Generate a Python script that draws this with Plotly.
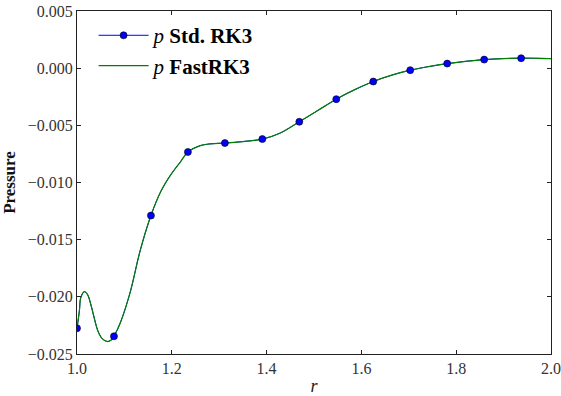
import plotly.graph_objects as go

# Sampled markers (Std. RK3)
r_markers = [1.000, 1.078, 1.156, 1.234, 1.312, 1.391, 1.469, 1.547, 1.625, 1.703, 1.781, 1.859, 1.937]
p_markers = [-0.02275, -0.02345, -0.01289, -0.00733, -0.00655, -0.00620, -0.00469,
             -0.00271, -0.00117, -0.000175, 0.000401, 0.000750, 0.000873]

# Continuous curve
r_curve = [1.000, 1.005, 1.008, 1.0155, 1.022, 1.030, 1.037, 1.044, 1.053, 1.065, 1.074, 1.078,
           1.091, 1.112, 1.133, 1.156, 1.177, 1.198, 1.219, 1.234, 1.260, 1.281, 1.312, 1.350,
           1.391, 1.429, 1.469, 1.508, 1.547, 1.586, 1.625, 1.664, 1.703, 1.742, 1.781, 1.820,
           1.859, 1.898, 1.937, 1.970, 2.000]
p_std_curve = [-0.02275, -0.02124, -0.02007, -0.01955, -0.01978, -0.02080, -0.02196, -0.02298,
               -0.02365, -0.02391, -0.02371, -0.02345, -0.02231, -0.01963, -0.01600, -0.01289,
               -0.01077, -0.00931, -0.00815, -0.00733, -0.00678, -0.00662, -0.00655, -0.00642,
               -0.00620, -0.00567, -0.00469, -0.00370, -0.00271, -0.00188, -0.00117, -0.00061,
               -0.000175, 0.000140, 0.000401, 0.000600, 0.000750, 0.000835, 0.000873, 0.000865,
               0.000840]
p_fast_curve = list(p_std_curve)

x_ticks = [1.0, 1.2, 1.4, 1.6, 1.8, 2.0]
y_ticks = [-0.025, -0.020, -0.015, -0.010, -0.005, 0.000, 0.005]

SERIF = "Liberation Serif"
fig = go.Figure()

# Std. RK3 line (full resolution)
fig.add_trace(go.Scatter(x=r_curve, y=p_std_curve, mode="lines",
                         line=dict(color="#0000ff", width=1, shape="spline"),
                         showlegend=False, hoverinfo="skip"))
# FastRK3 line
fig.add_trace(go.Scatter(x=r_curve, y=p_fast_curve, mode="lines",
                         line=dict(color="#008000", width=1.2, shape="spline"),
                         showlegend=False))
# Std. RK3 markers
fig.add_trace(go.Scatter(x=r_markers, y=p_markers, mode="markers",
                         marker=dict(color="#0000ff", size=7, line=dict(color="black", width=0.6)),
                         showlegend=False))
# Legend entries
fig.add_trace(go.Scatter(x=[None], y=[None], mode="lines+markers",
                         name="<i>p</i> <b>Std. RK3</b>",
                         line=dict(color="#0000ff", width=1),
                         marker=dict(color="#0000ff", size=7, line=dict(color="black", width=0.6))))
fig.add_trace(go.Scatter(x=[None], y=[None], mode="lines",
                         name="<i>p</i> <b>FastRK3</b>",
                         line=dict(color="#008000", width=1.2)))

axis_common = dict(showline=True, linecolor="#222", linewidth=1.2, mirror="ticks",
                   ticks="inside", ticklen=4, tickcolor="#222", showgrid=False, zeroline=False,
                   automargin=False,
                   tickfont=dict(family=SERIF, size=16, color="#333"))

fig.update_xaxes(range=[1.0, 2.0], tickvals=x_ticks, tickformat=".1f",
                 title=dict(text="<i>r</i>", font=dict(family=SERIF, size=18, color="#222"), standoff=6),
                 **axis_common)
fig.update_yaxes(range=[-0.025, 0.005], tickvals=y_ticks, tickformat=".3f",
                 title=dict(text="<b>Pressure</b>", font=dict(family=SERIF, size=17, color="#111"), standoff=8),
                 **axis_common)

fig.update_layout(
    width=561, height=396,
    margin=dict(l=77, r=10, t=11, b=42, autoexpand=False),
    paper_bgcolor="white", plot_bgcolor="white",
    legend=dict(x=0.035, y=0.988, xanchor="left", yanchor="top",
                bgcolor="rgba(255,255,255,0)", borderwidth=0,
                font=dict(family=SERIF, size=21, color="black"),
                itemwidth=50, tracegroupgap=0),
)

fig.write_html("out.html")
